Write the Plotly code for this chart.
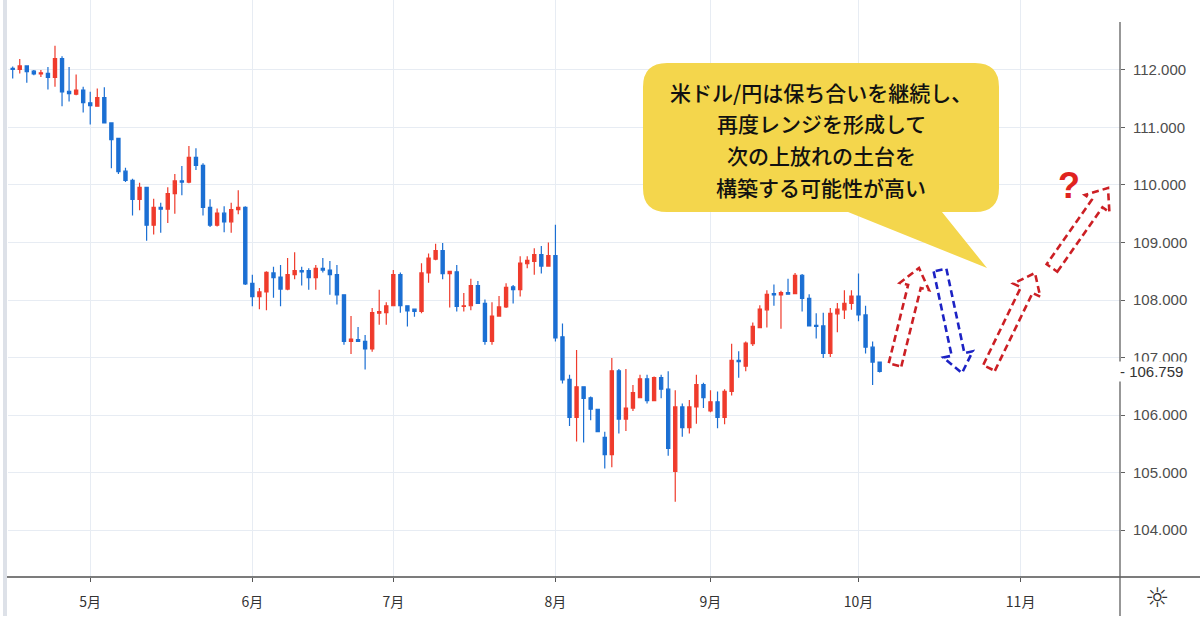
import plotly.graph_objects as go

# ---------------- data ----------------
dates = [
    "2019-04-16", "2019-04-17", "2019-04-18", "2019-04-19", "2019-04-22", "2019-04-23",
    "2019-04-24", "2019-04-25", "2019-04-26", "2019-04-29", "2019-04-30",
    "2019-05-01", "2019-05-02", "2019-05-03", "2019-05-06", "2019-05-07", "2019-05-08",
    "2019-05-09", "2019-05-10", "2019-05-13", "2019-05-14", "2019-05-15", "2019-05-16",
    "2019-05-17", "2019-05-20", "2019-05-21", "2019-05-22", "2019-05-23", "2019-05-24",
    "2019-05-27", "2019-05-28", "2019-05-29", "2019-05-30", "2019-05-31",
    "2019-06-03", "2019-06-04", "2019-06-05", "2019-06-06", "2019-06-07", "2019-06-10",
    "2019-06-11", "2019-06-12", "2019-06-13", "2019-06-14", "2019-06-17", "2019-06-18",
    "2019-06-19", "2019-06-20", "2019-06-21", "2019-06-24", "2019-06-25", "2019-06-26",
    "2019-06-27", "2019-06-28",
    "2019-07-01", "2019-07-02", "2019-07-03", "2019-07-04", "2019-07-05", "2019-07-08",
    "2019-07-09", "2019-07-10", "2019-07-11", "2019-07-12", "2019-07-15", "2019-07-16",
    "2019-07-17", "2019-07-18", "2019-07-19", "2019-07-22", "2019-07-23", "2019-07-24",
    "2019-07-25", "2019-07-26", "2019-07-29", "2019-07-30", "2019-07-31",
    "2019-08-01", "2019-08-02", "2019-08-05", "2019-08-06", "2019-08-07", "2019-08-08",
    "2019-08-09", "2019-08-12", "2019-08-13", "2019-08-14", "2019-08-15", "2019-08-16",
    "2019-08-19", "2019-08-20", "2019-08-21", "2019-08-22", "2019-08-23", "2019-08-26",
    "2019-08-27", "2019-08-28", "2019-08-29", "2019-08-30",
    "2019-09-02", "2019-09-03", "2019-09-04", "2019-09-05", "2019-09-06", "2019-09-09",
    "2019-09-10", "2019-09-11", "2019-09-12", "2019-09-13", "2019-09-16", "2019-09-17",
    "2019-09-18", "2019-09-19", "2019-09-20", "2019-09-23", "2019-09-24", "2019-09-25",
    "2019-09-26", "2019-09-27", "2019-09-30",
    "2019-10-01", "2019-10-02", "2019-10-03", "2019-10-04",
]

opens = [
    112.03, 112.01, 112.07, 111.98, 111.93, 111.94, 111.87, 112.20, 111.63, 111.58, 111.65,
    111.43, 111.37, 111.52, 111.08, 110.81, 110.24, 110.08, 109.75, 109.96, 109.30, 109.61,
    109.58, 109.85, 110.07, 110.05, 110.48, 110.34, 109.61, 109.30, 109.51, 109.36, 109.57,
    109.61,
    108.29, 108.06, 108.14, 108.47, 108.40, 108.19, 108.44, 108.51, 108.51, 108.39, 108.55,
    108.52, 108.44, 108.09, 107.28, 107.31, 107.28, 107.15, 107.77, 107.78,
    107.90, 108.44, 107.90, 107.84, 107.80, 108.47, 108.71, 108.86, 108.46, 108.49, 107.89,
    107.90, 108.25, 107.94, 107.28, 107.72, 107.88, 108.23, 108.18, 108.63, 108.67, 108.79,
    108.59,
    108.77, 107.36, 106.62, 105.96, 106.49, 106.30, 106.10, 105.61, 105.31, 106.77, 105.93,
    106.12, 106.30, 106.63, 106.25, 106.65, 106.45, 105.02, 106.14, 105.78, 106.14, 106.53,
    106.07, 106.23, 105.96, 106.41, 106.95, 106.85, 107.24, 107.52, 107.83, 108.11, 108.09,
    108.13, 108.11, 108.43, 108.03, 107.56, 107.55, 107.07, 107.76, 107.83, 107.94,
    108.07, 107.74, 107.18, 106.92,
]

highs = [
    112.06, 112.19, 112.08, 112.00, 112.00, 112.05, 112.42, 112.24, 112.05, 111.92, 111.71,
    111.62, 111.68, 111.70, 111.09, 110.82, 110.30, 110.11, 110.04, 109.97, 109.76, 109.69,
    109.96, 110.19, 110.33, 110.68, 110.64, 110.38, 109.75, 109.59, 109.63, 109.69, 109.91,
    109.63,
    108.44, 108.21, 108.50, 108.58, 108.61, 108.73, 108.83, 108.58, 108.55, 108.61, 108.73,
    108.68, 108.61, 108.10, 107.72, 107.53, 107.39, 107.86, 108.18, 107.96,
    108.52, 108.48, 107.91, 107.85, 108.64, 108.81, 108.98, 108.99, 108.51, 108.61, 108.12,
    108.37, 108.33, 108.01, 107.96, 108.07, 108.29, 108.26, 108.76, 108.76, 108.90, 108.94,
    109.00,
    109.31, 107.59, 106.70, 107.13, 106.50, 106.32, 106.11, 105.71, 106.99, 106.80, 106.80,
    106.52, 106.70, 106.70, 106.67, 106.70, 106.76, 106.43, 106.20, 106.26, 106.70, 106.56,
    106.43, 106.41, 106.45, 107.24, 107.11, 107.28, 107.61, 107.91, 108.17, 108.27, 108.16,
    108.37, 108.47, 108.45, 108.10, 107.77, 107.78, 107.86, 107.95, 108.17, 108.17,
    108.46, 107.90, 107.28, 106.93,
]

lows = [
    111.85, 111.94, 111.78, 111.91, 111.88, 111.66, 111.71, 111.37, 111.45, 111.56, 111.26,
    111.05, 111.36, 111.07, 110.29, 110.19, 110.05, 109.47, 109.56, 109.03, 109.14, 109.17,
    109.34, 109.50, 109.82, 110.03, 110.26, 109.47, 109.27, 109.28, 109.18, 109.17, 109.49,
    108.26,
    107.89, 107.84, 107.82, 108.04, 107.89, 108.17, 108.36, 108.25, 108.18, 108.18, 108.48,
    108.09, 107.92, 107.22, 107.06, 107.27, 106.79, 107.10, 107.57, 107.57,
    107.89, 107.78, 107.54, 107.71, 107.77, 108.30, 108.69, 108.36, 107.87, 107.80, 107.80,
    107.82, 107.93, 107.22, 107.22, 107.71, 107.86, 107.94, 108.06, 108.55, 108.44, 108.46,
    108.58,
    107.28, 106.55, 105.81, 105.54, 105.52, 105.91, 105.70, 105.07, 105.09, 105.68, 105.72,
    106.07, 106.29, 106.20, 106.24, 106.29, 105.29, 104.49, 105.62, 105.68, 105.85, 106.12,
    106.05, 105.77, 105.84, 106.34, 106.65, 106.76, 107.20, 107.51, 107.52, 107.90, 107.50,
    108.09, 108.10, 107.80, 107.54, 107.33, 106.99, 107.01, 107.44, 107.67, 107.83,
    107.63, 107.07, 106.52, 106.74,
]

closes = [
    112.01, 112.07, 111.97, 111.93, 111.95, 111.87, 112.20, 111.62, 111.59, 111.65, 111.43,
    111.38, 111.52, 111.08, 110.79, 110.23, 110.08, 109.75, 109.96, 109.30, 109.61, 109.58,
    109.85, 110.07, 110.05, 110.48, 110.34, 109.61, 109.30, 109.51, 109.36, 109.57, 109.61,
    108.28,
    108.06, 108.14, 108.48, 108.39, 108.19, 108.44, 108.51, 108.49, 108.39, 108.55, 108.52,
    108.44, 108.09, 107.28, 107.32, 107.28, 107.15, 107.78, 107.80, 107.90,
    108.44, 107.90, 107.81, 107.80, 108.47, 108.73, 108.86, 108.46, 108.50, 107.89, 107.90,
    108.25, 107.94, 107.28, 107.72, 107.88, 108.22, 108.18, 108.64, 108.69, 108.79, 108.59,
    108.77,
    107.34, 106.61, 105.96, 106.49, 106.29, 106.10, 105.71, 105.31, 106.77, 105.93, 106.12,
    106.39, 106.63, 106.25, 106.65, 106.45, 105.42, 106.14, 105.78, 106.14, 106.53, 106.30,
    106.23, 105.96, 106.41, 106.95, 106.93, 107.25, 107.54, 107.84, 108.10, 108.09, 108.13,
    108.10, 108.43, 108.03, 107.55, 107.54, 107.07, 107.77, 107.84, 107.94, 108.07,
    107.74, 107.18, 106.92, 106.759,
]

month_ticks = ["2019-05-01", "2019-06-03", "2019-07-01", "2019-08-01",
               "2019-09-02", "2019-10-01", "2019-11-01"]
month_labels = ["5月", "6月", "7月", "8月", "9月", "10月", "11月"]
price_ticks = [104, 105, 106, 107, 108, 109, 110, 111, 112]
last_price = 106.759

bubble_lines = ["米ドル/円は保ち合いを継続し、", "再度レンジを形成して",
                "次の上放れの土台を", "構築する可能性が高い"]
question_text = "?"

# ---------------- geometry helpers (pixel -> paper) ----------------
W, H = 1200, 630
ML, MR, MT, MB = 8, 80, 0, 53
PW, PH = W - ML - MR, H - MT - MB


def px(x):
    return (x - ML) / PW


def py(y):
    return (H - MB - y) / PH


def path_from(points):
    s = ""
    for cmd, pts in points:
        s += cmd + " " + " ".join(f"{px(a):.5f},{py(b):.5f}" for a, b in pts) + " "
    return s.strip()


def arrow_path(tail, tip, shaft=13.0, head=30.0, head_len=19.0):
    import math
    dx, dy = tip[0] - tail[0], tip[1] - tail[1]
    L = math.hypot(dx, dy)
    ux, uy = dx / L, dy / L
    nx, ny = -uy, ux
    bx, by = tip[0] - ux * head_len, tip[1] - uy * head_len
    s, h = shaft / 2, head / 2
    pts = [
        (tail[0] + nx * s, tail[1] + ny * s),
        (bx + nx * s, by + ny * s),
        (bx + nx * h, by + ny * h),
        tip,
        (bx - nx * h, by - ny * h),
        (bx - nx * s, by - ny * s),
        (tail[0] - nx * s, tail[1] - ny * s),
    ]
    return path_from([("M", [pts[0]])] + [("L", [p]) for p in pts[1:]]) + " Z"


# annotation arrows (pixel space: tail, tip, colour)
arrows = [
    ((895, 365), (919, 268), "#cc1f24"),
    ((940, 270), (962, 373), "#1c22c4"),
    ((989, 368), (1035, 273), "#cc1f24"),
    ((1052, 268), (1108, 188), "#cc1f24"),
]

# ---------------- figure ----------------
fig = go.Figure()
fig.add_trace(go.Candlestick(
    x=dates, open=opens, high=highs, low=lows, close=closes,
    increasing=dict(line=dict(color="#ef3b2c", width=1.2), fillcolor="#ef3b2c"),
    decreasing=dict(line=dict(color="#1b6fd3", width=1.2), fillcolor="#1b6fd3"),
    whiskerwidth=0, hoverinfo="skip", showlegend=False,
))

shapes = []
shapes.append(dict(type="rect", xref="paper", yref="paper", x0=px(3), x1=px(7),
                   y0=py(0), y1=py(616), fillcolor="#dde1e8", line=dict(width=0), layer="above"))
shapes.append(dict(type="line", xref="paper", yref="paper", x0=px(7), x1=px(1200),
                   y0=py(577), y1=py(577), line=dict(color="#505050", width=1.3)))
shapes.append(dict(type="line", xref="paper", yref="paper", x0=px(1120), x1=px(1120),
                   y0=py(22), y1=py(616), line=dict(color="#606060", width=1.3)))

# speech bubble
bx0, bx1, by0, by1, r = 643, 999, 63, 212, 24
tail_l, tail_r, tip = 848, 942, (987, 268)
bubble = path_from([
    ("M", [(bx0 + r, by0)]), ("L", [(bx1 - r, by0)]),
    ("Q", [(bx1, by0), (bx1, by0 + r)]), ("L", [(bx1, by1 - r)]),
    ("Q", [(bx1, by1), (bx1 - r, by1)]), ("L", [(tail_r, by1)]), ("L", [tip]),
    ("L", [(tail_l, by1)]), ("L", [(bx0 + r, by1)]),
    ("Q", [(bx0, by1), (bx0, by1 - r)]), ("L", [(bx0, by0 + r)]),
    ("Q", [(bx0, by0), (bx0 + r, by0)]),
]) + " Z"
shapes.append(dict(type="path", xref="paper", yref="paper", path=bubble,
                   fillcolor="#f4d64c", line=dict(width=0), layer="above"))

for tail, tipp, col in arrows:
    shapes.append(dict(type="path", xref="paper", yref="paper", path=arrow_path(tail, tipp),
                       fillcolor="rgba(0,0,0,0)", line=dict(color=col, width=2.6, dash="7px,4px"),
                       layer="above"))

annotations = []
line_y = [92, 123, 155, 187]
for txt, yy in zip(bubble_lines, line_y):
    annotations.append(dict(xref="paper", yref="paper", x=px(821), y=py(yy), text=txt,
                            showarrow=False, xanchor="center", yanchor="middle",
                            font=dict(family="Noto Sans CJK JP", size=21, color="#111111",
                                      weight=500)))

annotations.append(dict(xref="paper", yref="paper", x=px(1069), y=py(186), text=question_text,
                        showarrow=False, xanchor="center", yanchor="middle",
                        font=dict(family="Liberation Sans", size=36, color="#e0231f", weight="bold")))

# last-price label
annotations.append(dict(xref="paper", yref="y", x=px(1118), y=last_price,
                        text="- " + f"{last_price:.3f}", showarrow=False,
                        xanchor="left", yanchor="middle", bgcolor="#ffffff", borderpad=1,
                        font=dict(family="Liberation Sans", size=15, color="#333333")))

# settings icon
annotations.append(dict(xref="paper", yref="paper", x=px(1157), y=py(597), text="☼",
                        showarrow=False, xanchor="center", yanchor="middle",
                        font=dict(family="DejaVu Sans", size=27, color="#333333")))

fig.update_layout(
    width=W, height=H,
    margin=dict(l=ML, r=MR, t=MT, b=MB, pad=0),
    paper_bgcolor="#ffffff", plot_bgcolor="#ffffff",
    shapes=shapes, annotations=annotations,
    boxgap=0.35,
    xaxis=dict(
        type="date",
        rangebreaks=[dict(bounds=["sat", "mon"])],
        range=["2019-04-15 08:00", "2019-11-21 02:24"],
        rangeslider=dict(visible=False),
        tickvals=month_ticks, ticktext=month_labels,
        ticks="outside", ticklen=4, tickcolor="#555555",
        ticklabelstandoff=8,
        showgrid=True, gridcolor="#e7ecf3", gridwidth=1,
        showline=False, zeroline=False,
        tickfont=dict(family="Noto Sans CJK JP", size=14, color="#333333"),
    ),
    yaxis=dict(
        side="right",
        range=[103.183, 113.217],
        tickvals=price_ticks, tickformat=".3f",
        ticks="outside", ticklen=4, tickcolor="#606060",
        ticklabelstandoff=5,
        showgrid=True, gridcolor="#e7ecf3", gridwidth=1,
        showline=False, zeroline=False,
        tickfont=dict(family="Liberation Sans", size=15, color="#4d4d4d"),
    ),
    hovermode=False,
)

fig.write_html("out.html", config={"displayModeBar": False},
               post_script="document.body.style.margin='0';document.body.style.overflow='hidden';")
